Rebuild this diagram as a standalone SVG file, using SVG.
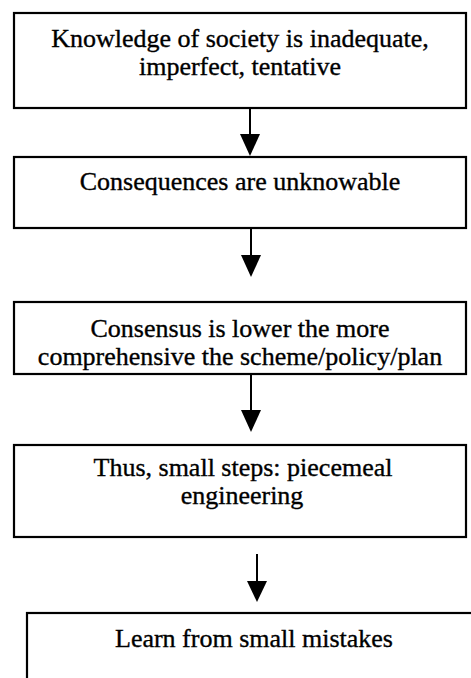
<svg xmlns="http://www.w3.org/2000/svg" width="471" height="678" viewBox="0 0 471 678">
  <style>
    .box { fill: #ffffff; stroke: #000000; stroke-width: 2.2; }
    .label { font-family: 'Liberation Serif', 'Times New Roman', 'DejaVu Serif', serif; font-size: 26px; fill: #000000; stroke: #000000; stroke-width: 0.35; text-anchor: middle; }
    .edge { stroke: #000000; stroke-width: 2; fill: none; }
    .head { fill: #000000; }
  </style>
  <rect width="471" height="678" fill="#ffffff"/>

  <g id="node-knowledge">
    <rect class="box" x="14" y="13" width="452" height="95"/>
    <text class="label" x="240" y="47">Knowledge of society is inadequate,</text>
    <text class="label" x="240" y="75">imperfect, tentative</text>
  </g>

  <g id="node-consequences">
    <rect class="box" x="14" y="157" width="452" height="71"/>
    <text class="label" x="240" y="190">Consequences are unknowable</text>
  </g>

  <g id="node-consensus">
    <rect class="box" x="14" y="302" width="452" height="72"/>
    <text class="label" x="240" y="337">Consensus is lower the more</text>
    <text class="label" x="240" y="365">comprehensive the scheme/policy/plan</text>
  </g>

  <g id="node-piecemeal">
    <rect class="box" x="14" y="445" width="452" height="92"/>
    <text class="label" x="243" y="476">Thus, small steps: piecemeal</text>
    <text class="label" x="242" y="504">engineering</text>
  </g>

  <g id="node-learn">
    <rect class="box" x="27" y="613" width="460" height="80"/>
    <text class="label" x="254" y="647">Learn from small mistakes</text>
  </g>

  <g id="connectors">
    <line class="edge" x1="250" y1="108" x2="250" y2="136"/>
    <polygon class="head" points="240,134 260,134 250,156"/>

    <line class="edge" x1="251" y1="228" x2="251" y2="258"/>
    <polygon class="head" points="241,255 261,255 251,277"/>

    <line class="edge" x1="251" y1="374" x2="251" y2="413"/>
    <polygon class="head" points="241,410 261,410 251,432"/>

    <line class="edge" x1="257" y1="554" x2="257" y2="584"/>
    <polygon class="head" points="247,581 267,581 257,602"/>
  </g>
</svg>
